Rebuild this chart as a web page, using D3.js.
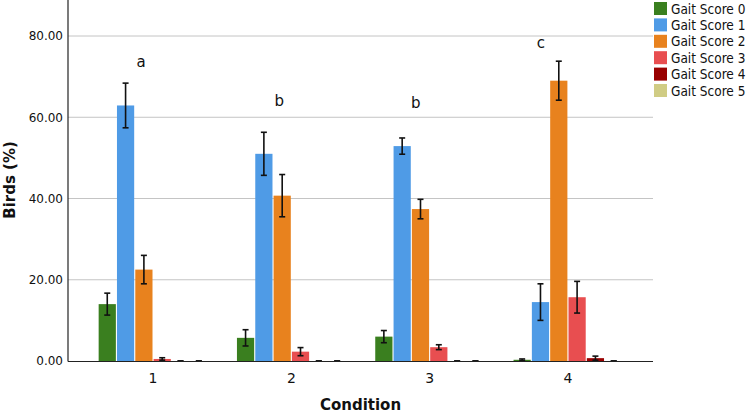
<!DOCTYPE html>
<html><head><meta charset="utf-8">
<script src="https://cdn.jsdelivr.net/npm/d3@7"></script>
<style>body{margin:0;background:#fff}svg{display:block}text{font-family:"DejaVu Sans",sans-serif}</style>
</head><body><svg id="c" width="749" height="416"></svg>
<script>
const conditions = ["1","2","3","4"];
const series = ["Gait Score 0","Gait Score 1","Gait Score 2","Gait Score 3","Gait Score 4","Gait Score 5"];
const colors = ["#3a7f1f","#4f9be6","#e8821e","#e84e50","#990000","#d0cc84"];
// mean values per condition, one array per gait score
const gs0 = [14.0, 5.7, 6.0, 0.3];
const gs1 = [62.9, 51.0, 52.9, 14.5];
const gs2 = [22.5, 40.7, 37.4, 69.0];
const gs3 = [0.5, 2.3, 3.4, 15.7];
const gs4 = [0.0, 0.0, 0.0, 0.7];
const gs5 = [0.0, 0.0, 0.0, 0.0];
// error bar half-widths
const err0 = [2.7, 2.0, 1.5, 0.2];
const err1 = [5.5, 5.3, 2.0, 4.5];
const err2 = [3.5, 5.2, 2.4, 4.8];
const err3 = [0.3, 1.0, 0.6, 3.9];
const err4 = [0.0, 0.0, 0.0, 0.5];
const err5 = [0.0, 0.0, 0.0, 0.0];
const yTicks = [0, 20, 40, 60, 80];
const letters = ["a","b","b","c"];
const letterY = [73.6, 64.0, 63.5, 78.3];
const letterDx = [-12, -12, -14, -27];

const values = [gs0,gs1,gs2,gs3,gs4,gs5];
const errs = [err0,err1,err2,err3,err4,err5];

const svg = d3.select("#c");
const L = 68, R = 653, T = 0, B = 361;
const y = d3.scaleLinear().domain([0, 80]).range([B, 36]);
const x0 = d3.scaleBand().domain(conditions).range([L, R]).paddingInner(0).paddingOuter(0.115);
const x1 = d3.scaleBand().domain(series).range([0, 111]).padding(0.06);

// gridlines
svg.append("g").selectAll("line").data(yTicks.filter(d=>d>0)).join("line")
  .attr("x1", L).attr("x2", R).attr("y1", d=>y(d)).attr("y2", d=>y(d))
  .attr("stroke", "#c4c4c4").attr("stroke-width", 1);

// bars
const data = [];
conditions.forEach((c,i)=>series.forEach((s,j)=>data.push({c, s, j, v: values[j][i], e: errs[j][i]})));
const gx = c => x0(c) + x0.bandwidth()/2 - 55.5;
svg.append("g").selectAll("rect").data(data).join("rect")
  .attr("x", d=>gx(d.c)+x1(d.s)).attr("width", x1.bandwidth())
  .attr("y", d=>y(d.v)).attr("height", d=>B - y(d.v))
  .attr("fill", d=>colors[d.j]);

// error bars
const eb = svg.append("g").attr("stroke", "#111").attr("stroke-width", 1.6);
data.forEach(d=>{
  const cx = gx(d.c)+x1(d.s)+x1.bandwidth()/2;
  const lo = Math.max(0, d.v-d.e), hi = d.v+d.e;
  eb.append("line").attr("x1", cx).attr("x2", cx).attr("y1", y(lo)).attr("y2", y(hi));
  eb.append("line").attr("x1", cx-3).attr("x2", cx+3).attr("y1", y(lo)).attr("y2", y(lo));
  eb.append("line").attr("x1", cx-3).attr("x2", cx+3).attr("y1", y(hi)).attr("y2", y(hi));
});

// axes
const yAxis = d3.axisLeft(y).tickValues(yTicks).tickFormat(d3.format(".2f")).tickSize(0).tickPadding(5);
const gy = svg.append("g").attr("transform", `translate(${L},0)`).call(yAxis);
gy.select(".domain").remove();
gy.selectAll("text").attr("font-size", 12).attr("font-family", "DejaVu Sans").attr("fill", "#111");
const xAxis = d3.axisBottom(x0).tickSize(0).tickPadding(12);
const gxA = svg.append("g").attr("transform", `translate(0,${B})`).call(xAxis);
gxA.select(".domain").remove();
gxA.selectAll("text").attr("font-size", 14).attr("font-family", "DejaVu Sans").attr("fill", "#111");
svg.append("line").attr("x1", L).attr("x2", L).attr("y1", T).attr("y2", B+0.5).attr("stroke", "#222").attr("stroke-width", 1.2);
svg.append("line").attr("x1", L).attr("x2", R).attr("y1", B+0.5).attr("y2", B+0.5).attr("stroke", "#222").attr("stroke-width", 1.2);

// letters
svg.append("g").selectAll("text").data(conditions).join("text")
  .attr("x", (c,i)=>x0(c)+x0.bandwidth()/2+letterDx[i]).attr("y", (c,i)=>y(letterY[i])+5)
  .attr("text-anchor", "middle").attr("font-size", 15).attr("fill", "#111").text((c,i)=>letters[i]);

// titles
svg.append("text").attr("transform", "translate(15,180) rotate(-90)").attr("text-anchor", "middle")
  .attr("font-size", 15).attr("font-weight", "bold").attr("fill", "#111").text("Birds (%)");
svg.append("text").attr("x", (L+R)/2).attr("y", 410).attr("text-anchor", "middle")
  .attr("font-size", 15).attr("font-weight", "bold").attr("fill", "#111").text("Condition");

// legend
const lg = svg.append("g").selectAll("g").data(series).join("g")
  .attr("transform", (d,i)=>`translate(654,${2+i*16.4})`);
lg.append("rect").attr("width", 13).attr("height", 13).attr("fill", (d,i)=>colors[i]);
lg.append("text").attr("x", 17).attr("y", 11.5).attr("font-size", 13.5)
  .attr("font-family", "DejaVu Sans Condensed").attr("font-stretch", "condensed")
  .attr("fill", "#111").text(d=>d);
</script></body></html>
